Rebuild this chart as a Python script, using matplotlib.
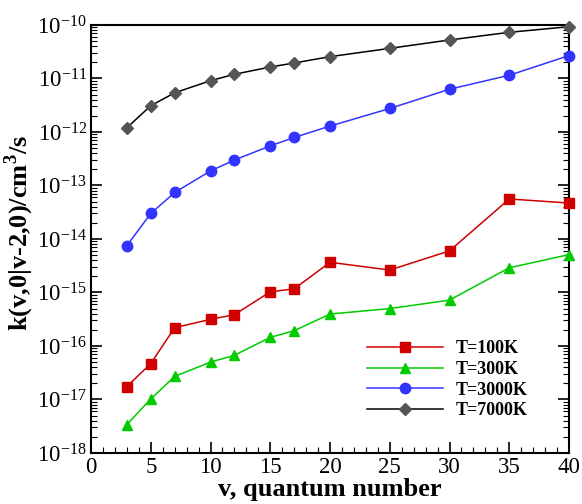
import numpy as np
import matplotlib.pyplot as plt
from matplotlib.ticker import LogLocator, MultipleLocator, NullFormatter

plt.rcParams['font.family'] = 'Liberation Serif'
plt.rcParams['mathtext.fontset'] = 'custom'
plt.rcParams['mathtext.rm'] = 'Liberation Serif'
plt.rcParams['mathtext.bf'] = 'Liberation Serif:bold'

# quantum number v
v = [3, 5, 7, 10, 12, 15, 17, 20, 25, 30, 35, 40]

k_100 = [1.74e-17, 4.7e-17, 2.2e-16, 3.15e-16, 3.85e-16, 1.03e-15, 1.17e-15,
         3.67e-15, 2.63e-15, 6.0e-15, 5.6e-14, 4.7e-14]
k_300 = [3.4e-18, 1.02e-17, 2.7e-17, 5.0e-17, 6.7e-17, 1.45e-16, 1.93e-16,
         3.96e-16, 5.0e-16, 7.2e-16, 2.9e-15, 5.1e-15]
k_3000 = [7.5e-15, 3.0e-14, 7.4e-14, 1.87e-13, 3.0e-13, 5.5e-13, 7.9e-13,
          1.29e-12, 2.75e-12, 6.3e-12, 1.15e-11, 2.68e-11]
k_7000 = [1.2e-12, 3.1e-12, 5.4e-12, 9.1e-12, 1.2e-11, 1.64e-11, 1.95e-11,
          2.56e-11, 3.66e-11, 5.25e-11, 7.3e-11, 9.3e-11]

fig = plt.figure(figsize=(5.82, 5.04), dpi=100)
ax = fig.add_axes([0.1564, 0.1012, 0.8213, 0.8492])

ax.plot(v, k_100, color='#d00000', marker='s', ms=6.5, lw=1.1, label='T=100K', clip_on=False, zorder=5)
ax.plot(v, k_300, color='#00cc00', marker='^', ms=7, lw=1.1, label='T=300K', clip_on=False, zorder=5)
ax.plot(v, k_3000, color='#3333ff', marker='o', ms=7.5, lw=1.1, label='T=3000K', clip_on=False, zorder=5)
ax.plot(v, k_7000, color='black', marker='D', ms=6.5, mfc='#555555', mec='#555555',
        lw=1.1, label='T=7000K', clip_on=False, zorder=5)

ax.set_yscale('log')
ax.set_xlim(0, 40)
ax.set_ylim(1e-18, 1e-10)

ax.xaxis.set_major_locator(MultipleLocator(5))
ax.xaxis.set_minor_locator(MultipleLocator(1))
ax.yaxis.set_major_locator(LogLocator(base=10, numticks=20))
ax.yaxis.set_minor_locator(LogLocator(base=10, subs=np.arange(2, 10), numticks=20))
ax.yaxis.set_minor_formatter(NullFormatter())

ax.tick_params(which='both', direction='in', top=False, right=True, labelsize=16.5)
ax.tick_params(which='major', length=8, width=1.2)
ax.tick_params(which='minor', length=4, width=0.8)
ax.tick_params(axis='x', pad=3)
ax.tick_params(axis='y', pad=3)
for s in ax.spines.values():
    s.set_linewidth(1.5)

ax.set_xlabel('v, quantum number', fontsize=19, fontweight='bold', labelpad=0)
ax.set_ylabel(r'k(v,0|v-2,0)/cm$^\mathbf{3}$/s', fontsize=19, fontweight='bold')
ax.yaxis.set_label_coords(-0.115, 0.514)

ax.legend(loc='upper left', bbox_to_anchor=(0.578, 0.263), frameon=False,
          prop={'weight': 'bold', 'size': 13}, handlelength=4.2, labelspacing=0.2,
          handletextpad=0.7, borderpad=0, borderaxespad=0)

fig.savefig('out.png', dpi=100)
